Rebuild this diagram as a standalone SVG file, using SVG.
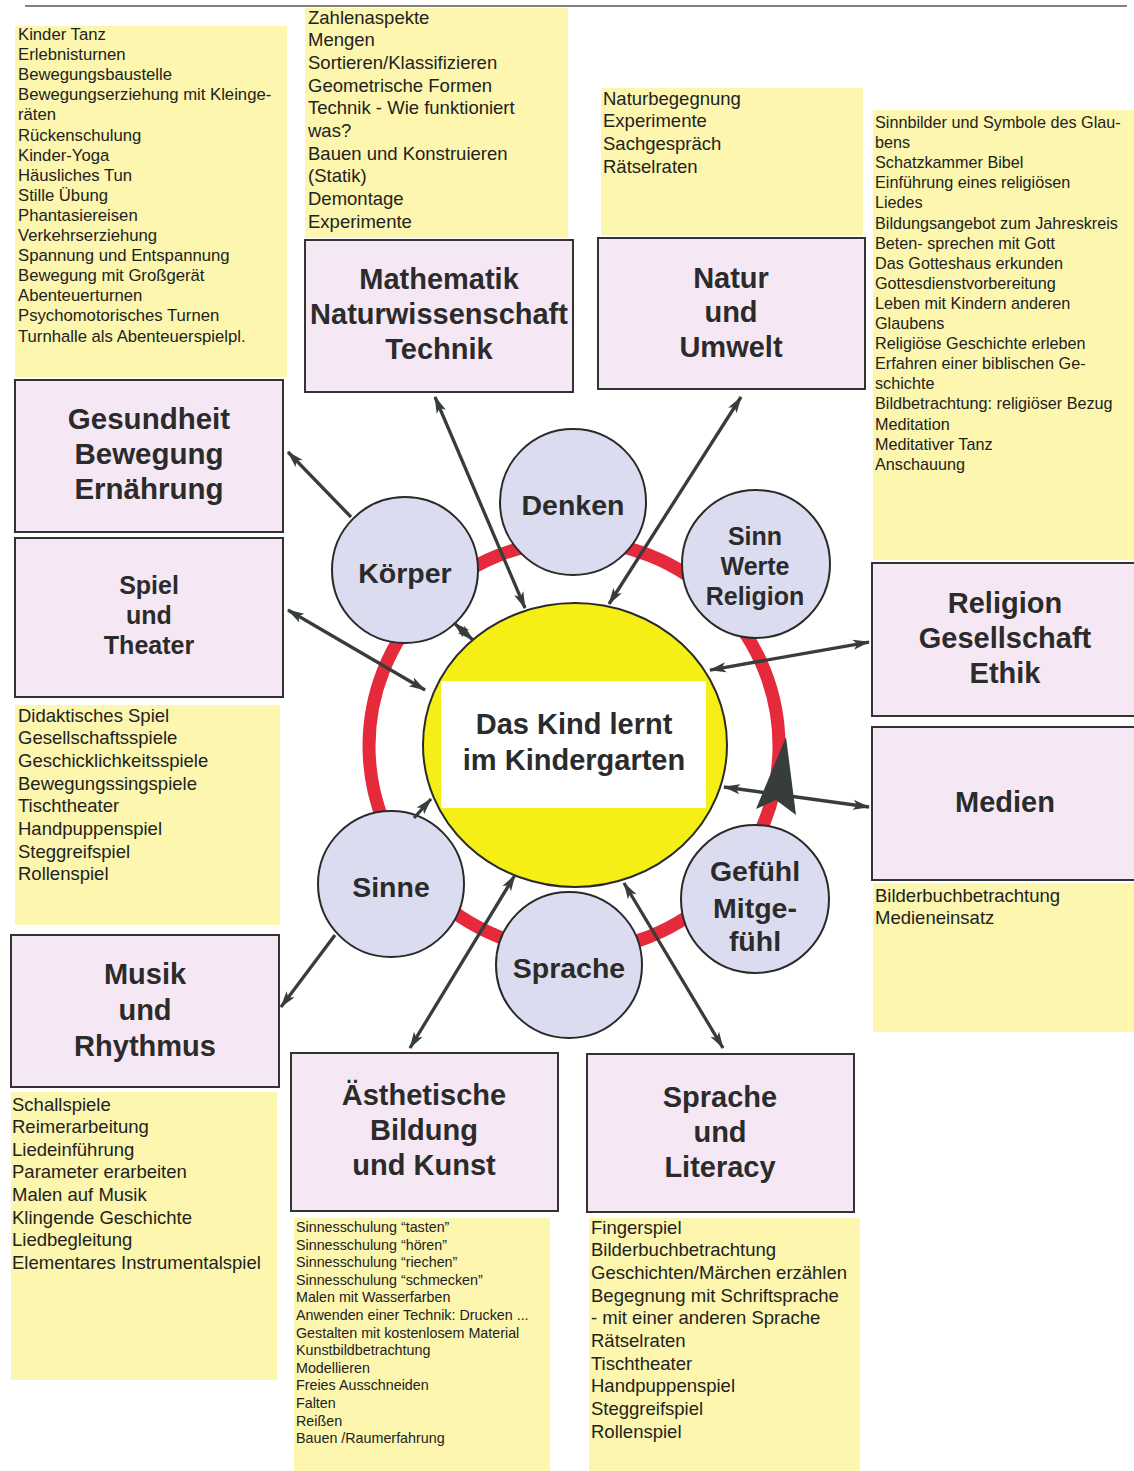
<svg xmlns="http://www.w3.org/2000/svg" width="1134" height="1471" viewBox="0 0 1134 1471">
<style>
  .y{fill:#fcf6ae}
  .box{fill:#f6e7f4;stroke:#333;stroke-width:2}
  .sm{fill:#dcdcf0;stroke:#2a2a2a;stroke-width:2}
  .t{font-family:"Liberation Sans",Arial,sans-serif;font-weight:bold;fill:#2b2b2b;text-anchor:middle}
  .l{font-family:"Liberation Sans",Arial,sans-serif;fill:#222}
  .c{stroke:#363d3b;stroke-width:3.3;fill:none}
</style>
<defs>
  <marker id="ah" viewBox="0 0 17 11" refX="16" refY="5.5" markerWidth="17" markerHeight="11" markerUnits="userSpaceOnUse" orient="auto-start-reverse">
    <path d="M0,0.5 L17,5.5 L0,10.5 L4,5.5 z" fill="#363d3b"/>
  </marker>
</defs>
<rect width="1134" height="1471" fill="#fff"/>
<line x1="25" y1="6" x2="1127" y2="6" stroke="#555" stroke-width="1.5"/>

<g id="lists">
  <rect class="y" x="15" y="26" width="272" height="351"/>
  <rect class="y" x="305" y="8" width="263" height="230"/>
  <rect class="y" x="601" y="88" width="262" height="148"/>
  <rect class="y" x="873" y="110" width="261" height="450"/>
  <rect class="y" x="15" y="705" width="265" height="220"/>
  <rect class="y" x="873" y="883" width="261" height="149"/>
  <rect class="y" x="11" y="1092" width="266" height="288"/>
  <rect class="y" x="294" y="1218" width="256" height="253"/>
  <rect class="y" x="589" y="1218" width="271" height="253"/>

  <text class="l" font-size="16.7" x="18" y="40">
    <tspan x="18">Kinder Tanz</tspan>
    <tspan x="18" dy="20.1">Erlebnisturnen</tspan>
    <tspan x="18" dy="20.1">Bewegungsbaustelle</tspan>
    <tspan x="18" dy="20.1">Bewegungserziehung mit Kleinge-</tspan>
    <tspan x="18" dy="20.1">räten</tspan>
    <tspan x="18" dy="20.1">Rückenschulung</tspan>
    <tspan x="18" dy="20.1">Kinder-Yoga</tspan>
    <tspan x="18" dy="20.1">Häusliches Tun</tspan>
    <tspan x="18" dy="20.1">Stille Übung</tspan>
    <tspan x="18" dy="20.1">Phantasiereisen</tspan>
    <tspan x="18" dy="20.1">Verkehrserziehung</tspan>
    <tspan x="18" dy="20.1">Spannung und Entspannung</tspan>
    <tspan x="18" dy="20.1">Bewegung mit Großgerät</tspan>
    <tspan x="18" dy="20.1">Abenteuerturnen</tspan>
    <tspan x="18" dy="20.1">Psychomotorisches Turnen</tspan>
    <tspan x="18" dy="20.1">Turnhalle als Abenteuerspielpl.</tspan>
  </text>
  <text class="l" font-size="18.5" x="308" y="23.5">
    <tspan x="308">Zahlenaspekte</tspan>
    <tspan x="308" dy="22.7">Mengen</tspan>
    <tspan x="308" dy="22.7">Sortieren/Klassifizieren</tspan>
    <tspan x="308" dy="22.7">Geometrische Formen</tspan>
    <tspan x="308" dy="22.7">Technik - Wie funktioniert</tspan>
    <tspan x="308" dy="22.7">was?</tspan>
    <tspan x="308" dy="22.7">Bauen und Konstruieren</tspan>
    <tspan x="308" dy="22.7">(Statik)</tspan>
    <tspan x="308" dy="22.7">Demontage</tspan>
    <tspan x="308" dy="22.7">Experimente</tspan>
  </text>
  <text class="l" font-size="18.5" x="603" y="104.5">
    <tspan x="603">Naturbegegnung</tspan>
    <tspan x="603" dy="22.7">Experimente</tspan>
    <tspan x="603" dy="22.7">Sachgespräch</tspan>
    <tspan x="603" dy="22.7">Rätselraten</tspan>
  </text>
  <text class="l" font-size="16.2" x="875" y="128">
    <tspan x="875">Sinnbilder und Symbole des Glau-</tspan>
    <tspan x="875" dy="20.1">bens</tspan>
    <tspan x="875" dy="20.1">Schatzkammer Bibel</tspan>
    <tspan x="875" dy="20.1">Einführung eines religiösen</tspan>
    <tspan x="875" dy="20.1">Liedes</tspan>
    <tspan x="875" dy="20.1">Bildungsangebot zum Jahreskreis</tspan>
    <tspan x="875" dy="20.1">Beten- sprechen mit Gott</tspan>
    <tspan x="875" dy="20.1">Das Gotteshaus erkunden</tspan>
    <tspan x="875" dy="20.1">Gottesdienstvorbereitung</tspan>
    <tspan x="875" dy="20.1">Leben mit Kindern anderen</tspan>
    <tspan x="875" dy="20.1">Glaubens</tspan>
    <tspan x="875" dy="20.1">Religiöse Geschichte erleben</tspan>
    <tspan x="875" dy="20.1">Erfahren einer biblischen Ge-</tspan>
    <tspan x="875" dy="20.1">schichte</tspan>
    <tspan x="875" dy="20.1">Bildbetrachtung: religiöser Bezug</tspan>
    <tspan x="875" dy="20.1">Meditation</tspan>
    <tspan x="875" dy="20.1">Meditativer Tanz</tspan>
    <tspan x="875" dy="20.1">Anschauung</tspan>
  </text>
  <text class="l" font-size="18.5" x="18" y="721.5">
    <tspan x="18">Didaktisches Spiel</tspan>
    <tspan x="18" dy="22.7">Gesellschaftsspiele</tspan>
    <tspan x="18" dy="22.7">Geschicklichkeitsspiele</tspan>
    <tspan x="18" dy="22.7">Bewegungssingspiele</tspan>
    <tspan x="18" dy="22.7">Tischtheater</tspan>
    <tspan x="18" dy="22.7">Handpuppenspiel</tspan>
    <tspan x="18" dy="22.7">Steggreifspiel</tspan>
    <tspan x="18" dy="22.7">Rollenspiel</tspan>
  </text>
  <text class="l" font-size="18.5" x="875" y="901.5">
    <tspan x="875">Bilderbuchbetrachtung</tspan>
    <tspan x="875" dy="22.7">Medieneinsatz</tspan>
  </text>
  <text class="l" font-size="18.5" x="12" y="1110.5">
    <tspan x="12">Schallspiele</tspan>
    <tspan x="12" dy="22.6">Reimerarbeitung</tspan>
    <tspan x="12" dy="22.6">Liedeinführung</tspan>
    <tspan x="12" dy="22.6">Parameter erarbeiten</tspan>
    <tspan x="12" dy="22.6">Malen auf Musik</tspan>
    <tspan x="12" dy="22.6">Klingende Geschichte</tspan>
    <tspan x="12" dy="22.6">Liedbegleitung</tspan>
    <tspan x="12" dy="22.6">Elementares Instrumentalspiel</tspan>
  </text>
  <text class="l" font-size="14.3" x="296" y="1232">
    <tspan x="296">Sinnesschulung “tasten”</tspan>
    <tspan x="296" dy="17.6">Sinnesschulung “hören”</tspan>
    <tspan x="296" dy="17.6">Sinnesschulung “riechen”</tspan>
    <tspan x="296" dy="17.6">Sinnesschulung “schmecken”</tspan>
    <tspan x="296" dy="17.6">Malen mit Wasserfarben</tspan>
    <tspan x="296" dy="17.6">Anwenden einer Technik: Drucken ...</tspan>
    <tspan x="296" dy="17.6">Gestalten mit kostenlosem Material</tspan>
    <tspan x="296" dy="17.6">Kunstbildbetrachtung</tspan>
    <tspan x="296" dy="17.6">Modellieren</tspan>
    <tspan x="296" dy="17.6">Freies Ausschneiden</tspan>
    <tspan x="296" dy="17.6">Falten</tspan>
    <tspan x="296" dy="17.6">Reißen</tspan>
    <tspan x="296" dy="17.6">Bauen /Raumerfahrung</tspan>
  </text>
  <text class="l" font-size="18.5" x="591" y="1233.5">
    <tspan x="591">Fingerspiel</tspan>
    <tspan x="591" dy="22.7">Bilderbuchbetrachtung</tspan>
    <tspan x="591" dy="22.7">Geschichten/Märchen erzählen</tspan>
    <tspan x="591" dy="22.7">Begegnung mit Schriftsprache</tspan>
    <tspan x="591" dy="22.7">- mit einer anderen Sprache</tspan>
    <tspan x="591" dy="22.7">Rätselraten</tspan>
    <tspan x="591" dy="22.7">Tischtheater</tspan>
    <tspan x="591" dy="22.7">Handpuppenspiel</tspan>
    <tspan x="591" dy="22.7">Steggreifspiel</tspan>
    <tspan x="591" dy="22.7">Rollenspiel</tspan>
  </text>
</g>

<g id="mathematik">
  <rect class="box" x="305" y="240" width="268" height="152"/>
  <text class="t" font-size="29" x="439" y="289">Mathematik</text>
  <text class="t" font-size="29" x="439" y="324">Naturwissenschaft</text>
  <text class="t" font-size="29" x="439" y="359">Technik</text>
</g>
<g id="natur">
  <rect class="box" x="598" y="238" width="267" height="151"/>
  <text class="t" font-size="29" x="731" y="288">Natur</text>
  <text class="t" font-size="29" x="731" y="322">und</text>
  <text class="t" font-size="29" x="731" y="357">Umwelt</text>
</g>
<g id="gesundheit">
  <rect class="box" x="15" y="380" width="268" height="152"/>
  <text class="t" font-size="29.5" x="149" y="429">Gesundheit</text>
  <text class="t" font-size="29.5" x="149" y="464">Bewegung</text>
  <text class="t" font-size="29.5" x="149" y="499">Ernährung</text>
</g>
<g id="spiel">
  <rect class="box" x="15" y="538" width="268" height="159"/>
  <text class="t" font-size="25" x="149" y="594">Spiel</text>
  <text class="t" font-size="25" x="149" y="624">und</text>
  <text class="t" font-size="25" x="149" y="654">Theater</text>
</g>
<g id="religion">
  <rect class="box" x="872" y="563" width="266" height="153"/>
  <text class="t" font-size="29" x="1005" y="613">Religion</text>
  <text class="t" font-size="29" x="1005" y="648">Gesellschaft</text>
  <text class="t" font-size="29" x="1005" y="683">Ethik</text>
</g>
<g id="medien">
  <rect class="box" x="872" y="727" width="266" height="153"/>
  <text class="t" font-size="29" x="1005" y="812">Medien</text>
</g>
<g id="musik">
  <rect class="box" x="11" y="935" width="268" height="152"/>
  <text class="t" font-size="29" x="145" y="984">Musik</text>
  <text class="t" font-size="29" x="145" y="1020">und</text>
  <text class="t" font-size="29" x="145" y="1056">Rhythmus</text>
</g>
<g id="aesthetik">
  <rect class="box" x="291" y="1053" width="267" height="158"/>
  <text class="t" font-size="29" x="424" y="1105">Ästhetische</text>
  <text class="t" font-size="29" x="424" y="1140">Bildung</text>
  <text class="t" font-size="29" x="424" y="1175">und Kunst</text>
</g>
<g id="sprache-literacy">
  <rect class="box" x="587" y="1054" width="267" height="158"/>
  <text class="t" font-size="29" x="720" y="1107">Sprache</text>
  <text class="t" font-size="29" x="720" y="1142">und</text>
  <text class="t" font-size="29" x="720" y="1177">Literacy</text>
</g>

<g id="ring">
  <circle cx="574" cy="746" r="205" fill="none" stroke="#e52a3b" stroke-width="13"/>
</g>

<g id="center">
  <ellipse cx="575" cy="745" rx="152" ry="142" fill="#f5ef16" stroke="#2a2a2a" stroke-width="2"/>
  <rect x="441" y="681" width="265" height="127" fill="#fff"/>
  <text class="t" font-size="29" x="574" y="734">Das Kind lernt</text>
  <text class="t" font-size="29" x="574" y="770">im Kindergarten</text>
</g>

<g id="denken">
  <circle class="sm" cx="573" cy="502" r="73"/>
  <text class="t" font-size="28.5" x="573" y="515">Denken</text>
</g>
<g id="koerper">
  <circle class="sm" cx="405" cy="570" r="73"/>
  <text class="t" font-size="28.5" x="405" y="583">Körper</text>
</g>
<g id="sinn">
  <circle class="sm" cx="756" cy="564" r="74"/>
  <text class="t" font-size="25" x="755" y="545">Sinn</text>
  <text class="t" font-size="25" x="755" y="575">Werte</text>
  <text class="t" font-size="25" x="755" y="605">Religion</text>
</g>
<g id="sinne">
  <circle class="sm" cx="391" cy="884" r="73"/>
  <text class="t" font-size="28.5" x="391" y="897">Sinne</text>
</g>
<g id="sprache">
  <circle class="sm" cx="569" cy="965" r="73"/>
  <text class="t" font-size="28.5" x="569" y="978">Sprache</text>
</g>
<g id="gefuehl">
  <circle class="sm" cx="755" cy="899" r="74"/>
  <text class="t" font-size="28.5" x="755" y="881">Gefühl</text>
  <text class="t" font-size="28.5" x="755" y="918">Mitge-</text>
  <text class="t" font-size="28.5" x="755" y="951">fühl</text>
</g>

<g id="connectors">
  <line class="c" x1="351" y1="517" x2="288" y2="452" marker-end="url(#ah)"/>
  <line class="c" x1="435" y1="397" x2="525" y2="608" marker-start="url(#ah)" marker-end="url(#ah)"/>
  <line class="c" x1="741" y1="397" x2="609" y2="604" marker-start="url(#ah)" marker-end="url(#ah)"/>
  <line class="c" x1="288" y1="610" x2="425" y2="690" marker-start="url(#ah)" marker-end="url(#ah)"/>
  <line class="c" x1="454" y1="623" x2="473" y2="640" marker-start="url(#ah)" marker-end="url(#ah)"/>
  <line class="c" x1="869" y1="642" x2="710" y2="670" marker-start="url(#ah)" marker-end="url(#ah)"/>
  <line class="c" x1="724" y1="787" x2="869" y2="807" marker-start="url(#ah)" marker-end="url(#ah)"/>
  <line class="c" x1="414" y1="818" x2="431" y2="799" marker-end="url(#ah)"/>
  <line class="c" x1="335" y1="935" x2="281" y2="1007" marker-end="url(#ah)"/>
  <line class="c" x1="410" y1="1048" x2="515" y2="875" marker-start="url(#ah)" marker-end="url(#ah)"/>
  <line class="c" x1="624" y1="883" x2="723" y2="1048" marker-start="url(#ah)" marker-end="url(#ah)"/>
  <path d="M786,737 L796,815 L776,800 L756,809 z" fill="#363d3b"/>
</g>
</svg>
